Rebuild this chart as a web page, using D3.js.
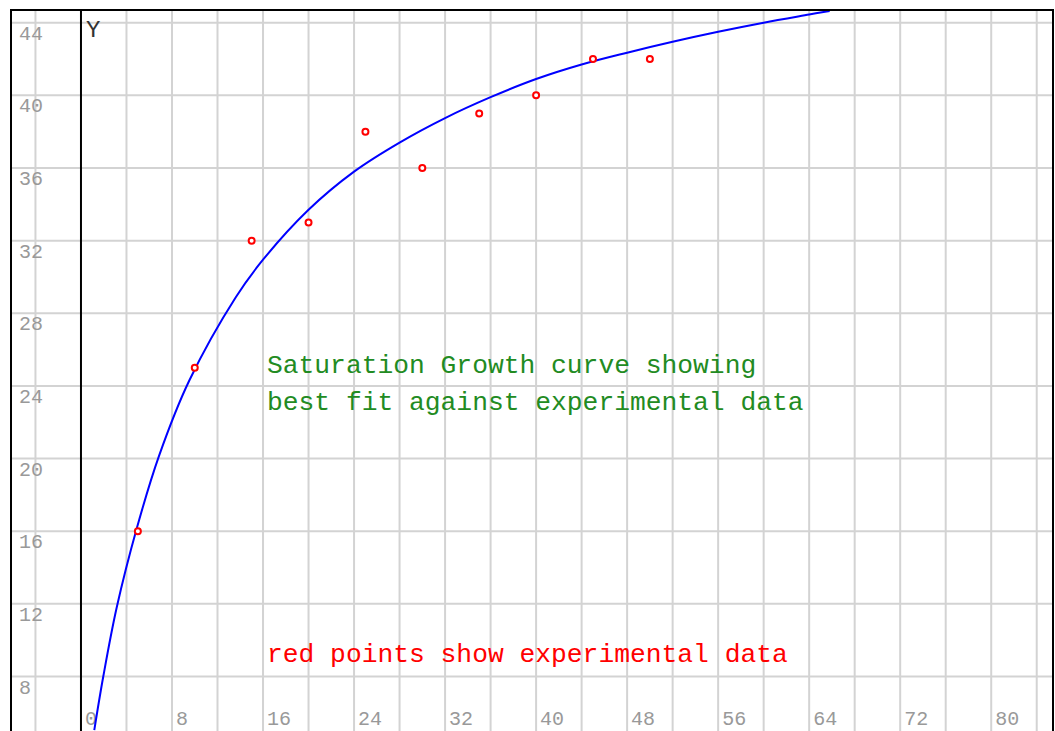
<!DOCTYPE html>
<html>
<head>
<meta charset="utf-8">
<script src="https://cdn.jsdelivr.net/npm/d3@7"></script>
<style>
  body { margin: 0; background: #fff; }
  text { font-family: "Courier New", "Nimbus Mono PS", FreeMono, "Liberation Mono", monospace; }
</style>
</head>
<body>
<div class="chart-container"></div>
<script>
// experimental data (red points)
const expX = [5, 10, 15, 20, 25, 30, 35, 40, 45, 50];
const expY = [16, 25, 32, 33, 38, 36, 39, 40, 42, 42];

// fitted saturation growth curve
const fitX = [1.17, 1.96, 3.14, 4.9, 6.86, 9.52, 13.62, 16, 20, 24, 28, 32, 36, 40, 44, 48, 52, 56, 60, 64, 65.8];
const fitY = [5.05, 8, 11.8, 16.15, 20.15, 24.3, 28.9, 30.95, 33.7, 35.8, 37.4, 38.75, 39.9, 40.9, 41.7, 42.35, 42.95, 43.5, 44.0, 44.45, 44.65];

// grid and tick values
const xGrid = d3.range(-4, 85, 4);
const xTickLabels = [0, 8, 16, 24, 32, 40, 48, 56, 64, 72, 80];
const yGrid = [8, 12, 16, 20, 24, 28, 32, 36, 40, 44];

const noteLines = ['Saturation Growth curve showing', 'best fit against experimental data'];
const redNote = 'red points show experimental data';

function drawChart(){
    const svg_width = 1055;
    const svg_height = 731;

    const svg = d3.select('.chart-container').append('svg')
        .attr('width', svg_width).attr('height', svg_height);

    // plot window
    const frame = {left: 11, top: 10, right: 1053, bottom: 731};

    const xScale = d3.scaleLinear().domain([-6.15, 85.43]).range([frame.left, frame.right]);
    const yScale = d3.scaleLinear().domain([5, 44.7]).range([frame.bottom, frame.top]);

    // grid
    const grid = svg.append('g').attr('class', 'grid')
        .style('stroke', '#d3d3d3').style('stroke-width', 2);
    grid.selectAll('.vgrid').data(xGrid.filter(d => d !== 0)).enter()
        .append('line')
        .attr('x1', d => xScale(d)).attr('x2', d => xScale(d))
        .attr('y1', frame.top).attr('y2', frame.bottom);
    grid.selectAll('.hgrid').data(yGrid).enter()
        .append('line')
        .attr('y1', d => yScale(d)).attr('y2', d => yScale(d))
        .attr('x1', frame.left).attr('x2', frame.right);

    // y axis line at x = 0
    svg.append('line')
        .attr('x1', xScale(0)).attr('x2', xScale(0))
        .attr('y1', frame.top).attr('y2', frame.bottom)
        .style('stroke', '#000').style('stroke-width', 2);

    // tick labels
    svg.append('g').selectAll('text').data(yGrid).enter()
        .append('text')
        .attr('x', 19)
        .attr('y', d => yScale(d) + 17)
        .text(d => d)
        .style('font-size', '20px').style('fill', '#999');

    svg.append('g').selectAll('text').data(xTickLabels).enter()
        .append('text')
        .attr('x', d => xScale(d) + 4)
        .attr('y', 725)
        .text(d => d)
        .style('font-size', '20px').style('fill', '#999');

    svg.append('text')
        .attr('x', xScale(0) + 5).attr('y', 37)
        .text('Y')
        .style('font-size', '24px').style('fill', '#333');

    // fitted curve
    const lineGen = d3.line()
        .x(d => xScale(d[0]))
        .y(d => yScale(d[1]))
        .curve(d3.curveCatmullRom.alpha(0.5));
    svg.append('path')
        .datum(d3.zip(fitX, fitY))
        .attr('d', lineGen)
        .style('fill', 'none').style('stroke', '#0000ff').style('stroke-width', 2);

    // experimental points
    svg.append('g').selectAll('circle').data(d3.zip(expX, expY)).enter()
        .append('circle')
        .attr('cx', d => xScale(d[0]))
        .attr('cy', d => yScale(d[1]))
        .attr('r', 3)
        .style('fill', '#fff').style('stroke', '#ff0000').style('stroke-width', 2);

    // notes
    svg.append('g').selectAll('text').data(noteLines).enter()
        .append('text')
        .attr('x', 267)
        .attr('y', (d, i) => 373 + i * 37)
        .text(d => d)
        .style('font-size', '26.3px').style('fill', '#228b22');

    svg.append('text')
        .attr('x', 267).attr('y', 662)
        .text(redNote)
        .style('font-size', '26.3px').style('fill', '#ff0000');

    // frame
    svg.append('rect')
        .attr('x', frame.left).attr('y', frame.top)
        .attr('width', frame.right - frame.left).attr('height', frame.bottom - frame.top + 10)
        .style('fill', 'none').style('stroke', '#000').style('stroke-width', 2);
}

drawChart();
</script>
</body>
</html>
